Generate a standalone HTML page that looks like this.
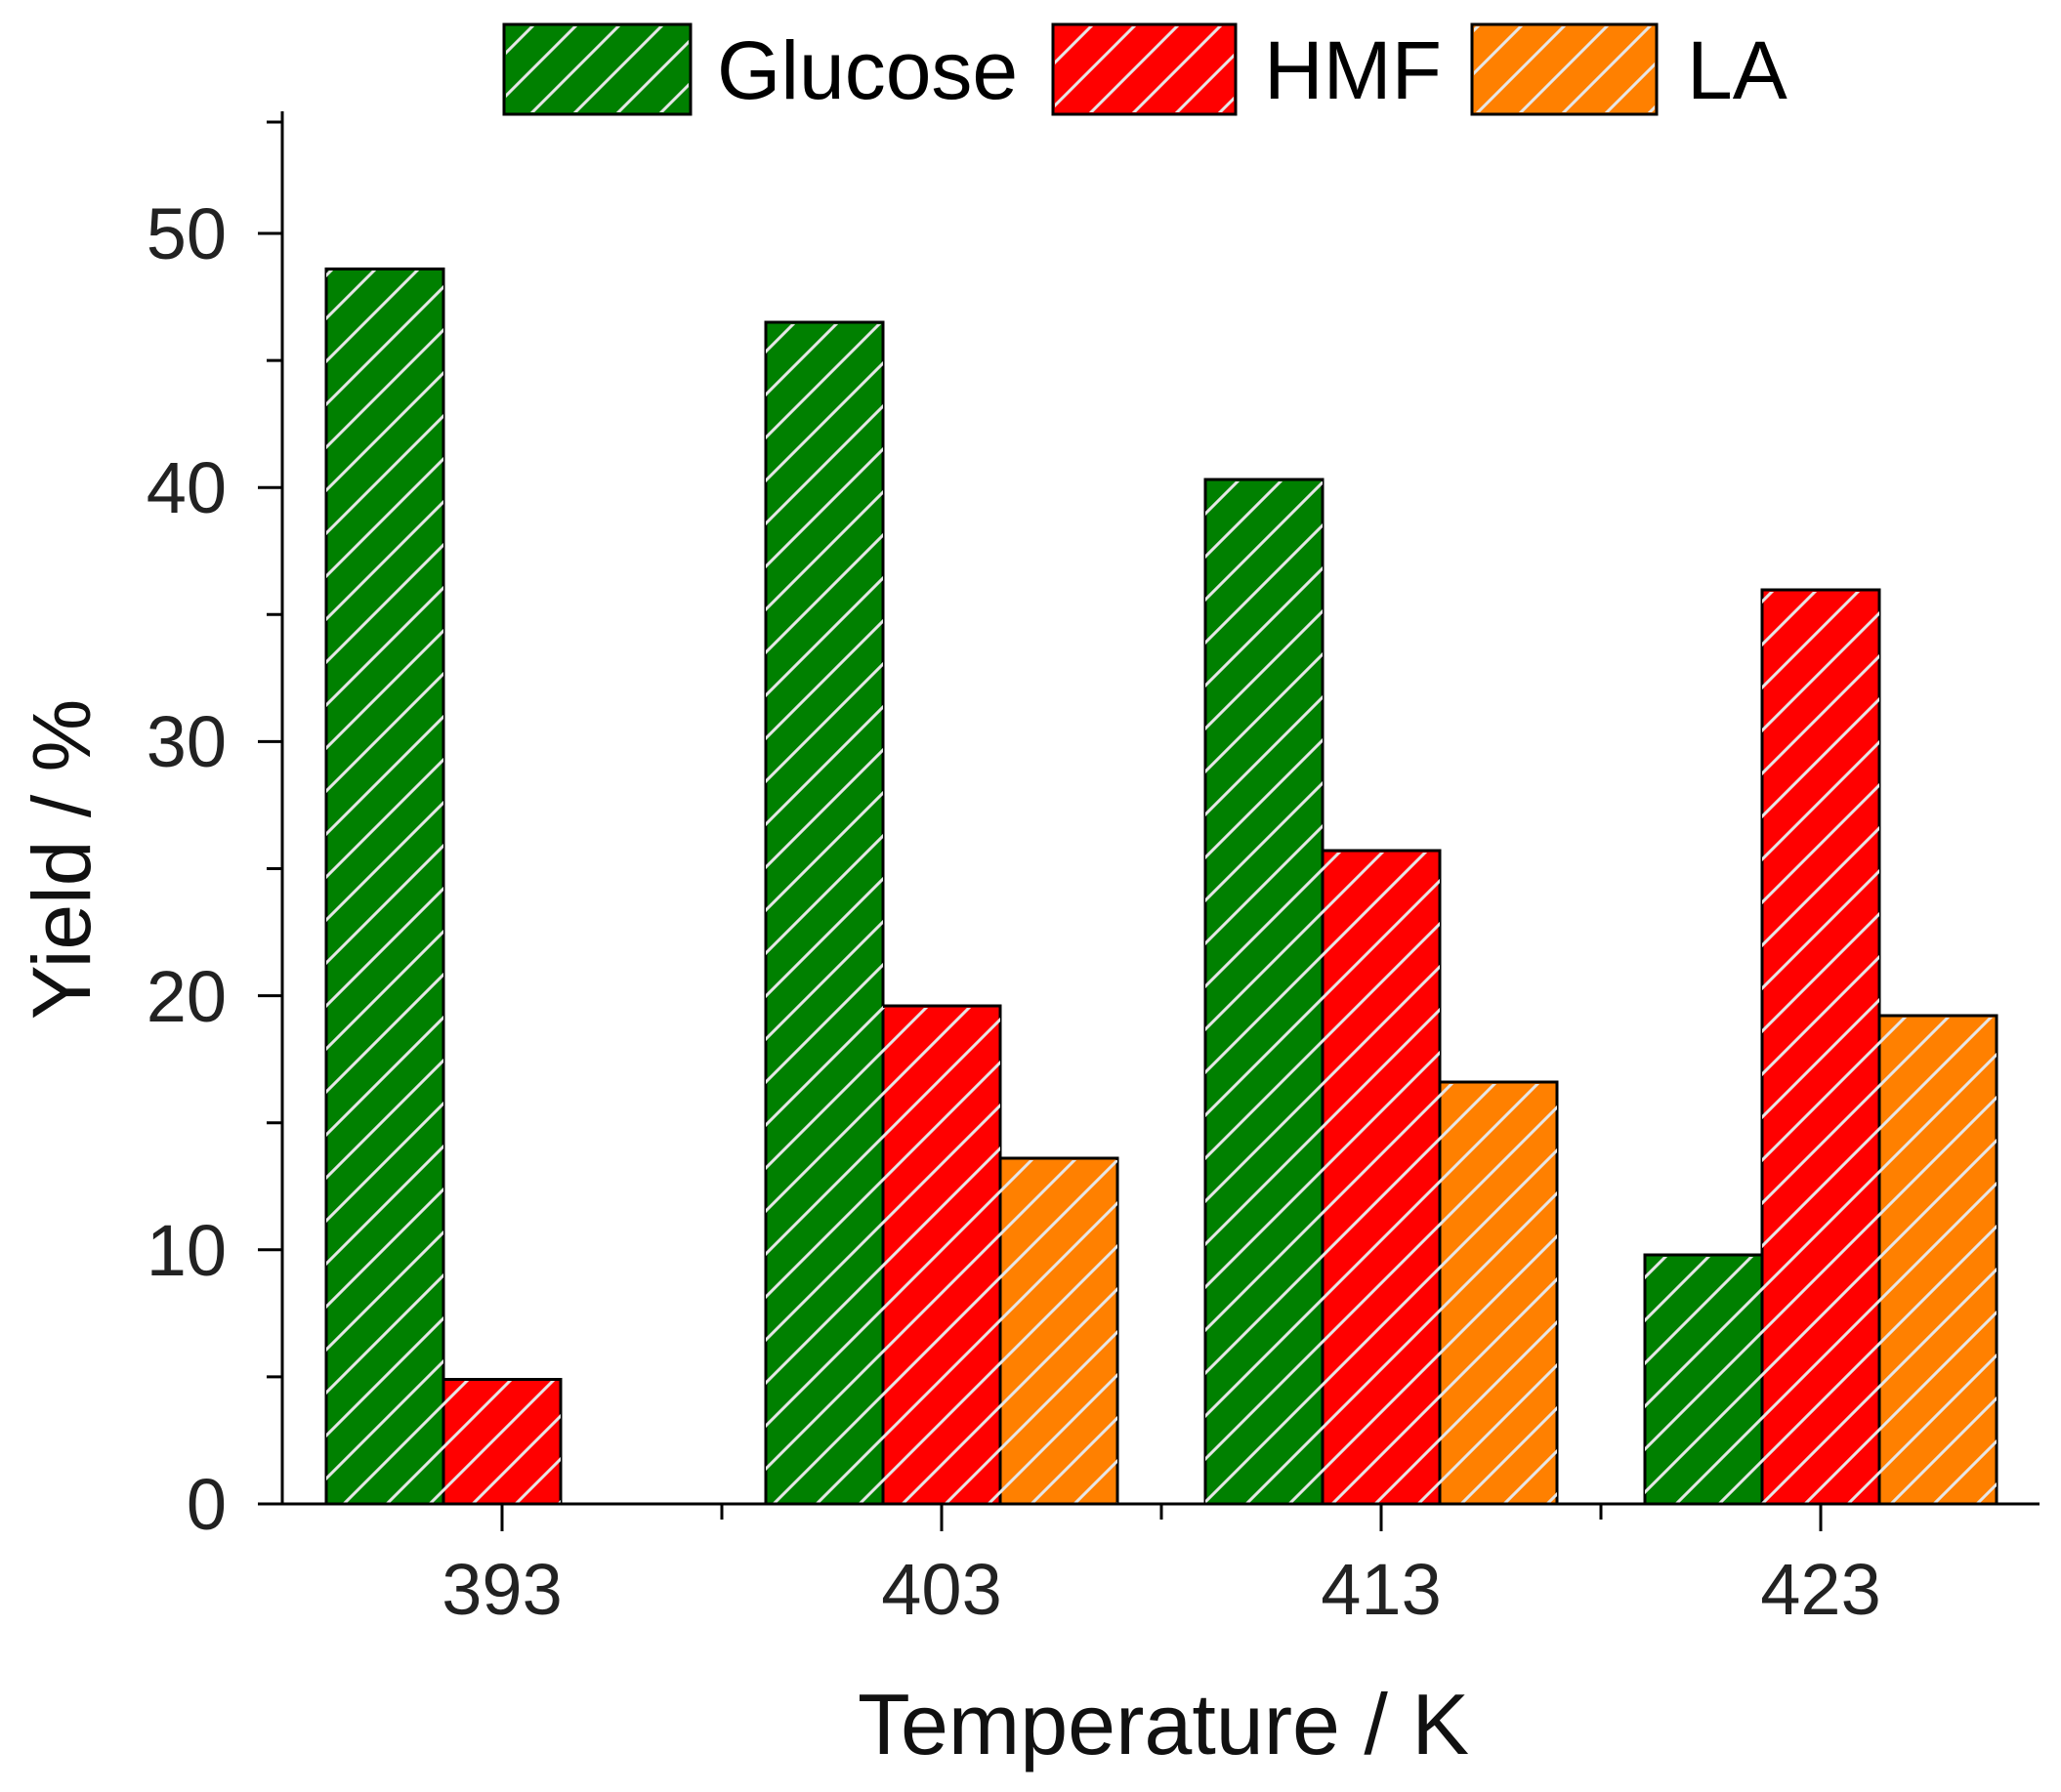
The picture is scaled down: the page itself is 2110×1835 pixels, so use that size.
<!DOCTYPE html>
<html><head><meta charset="utf-8"><style>html,body{margin:0;padding:0;background:#fff}</style></head>
<body>
<svg width="2110" height="1830" xmlns="http://www.w3.org/2000/svg" font-family="Liberation Sans, Arial, sans-serif">
<defs>
<pattern id="h" patternUnits="userSpaceOnUse" width="44" height="44">
<path d="M-11,11 L11,-11 M0,44 L44,0 M33,55 L55,33" stroke="#e6e6e6" stroke-width="3"/>
</pattern>
</defs>
<g stroke="#000" stroke-width="3">
<rect x="334" y="275.4" width="120" height="1264.6" fill="#008000"/>
<rect x="454" y="1412.5" width="120" height="127.5" fill="#ff0000"/>
<rect x="784" y="330" width="120" height="1210" fill="#008000"/>
<rect x="904" y="1030" width="120" height="510" fill="#ff0000"/>
<rect x="1024" y="1186" width="120" height="354" fill="#ff8000"/>
<rect x="1234" y="491" width="120" height="1049" fill="#008000"/>
<rect x="1354" y="871" width="120" height="669" fill="#ff0000"/>
<rect x="1474" y="1108" width="120" height="432" fill="#ff8000"/>
<rect x="1684" y="1285" width="120" height="255" fill="#008000"/>
<rect x="1804" y="604" width="120" height="936" fill="#ff0000"/>
<rect x="1924" y="1040" width="120" height="500" fill="#ff8000"/>
</g>
<g fill="url(#h)">
<rect x="334" y="277" width="120" height="1262"/>
<rect x="454" y="1414" width="120" height="125"/>
<rect x="784" y="332" width="120" height="1207"/>
<rect x="904" y="1032" width="120" height="507"/>
<rect x="1024" y="1188" width="120" height="351"/>
<rect x="1234" y="493" width="120" height="1046"/>
<rect x="1354" y="873" width="120" height="666"/>
<rect x="1474" y="1110" width="120" height="429"/>
<rect x="1684" y="1287" width="120" height="252"/>
<rect x="1804" y="606" width="120" height="933"/>
<rect x="1924" y="1042" width="120" height="497"/>
</g>
<g stroke="#000" stroke-width="3" fill="none">
<path d="M289,114 V1540 H2088"/>
<path d="M289,1540 h-25 M289,1279.8 h-25 M289,1019.6 h-25 M289,759.4 h-25 M289,499.2 h-25 M289,239 h-25"/>
<path d="M289,1409.9 h-16 M289,1149.7 h-16 M289,889.5 h-16 M289,629.3 h-16 M289,369.1 h-16 M289,125 h-16"/>
<path d="M514,1540 v28 M964,1540 v28 M1414,1540 v28 M1864,1540 v28"/>
<path d="M739,1540 v16 M1189,1540 v16 M1639,1540 v16"/>
</g>
<g font-size="74" fill="#222" text-anchor="end">
<text x="232" y="1566">0</text>
<text x="232" y="1306">10</text>
<text x="232" y="1046">20</text>
<text x="232" y="785">30</text>
<text x="232" y="525">40</text>
<text x="232" y="265">50</text>
</g>
<g font-size="74" fill="#222" text-anchor="middle">
<text x="514" y="1653">393</text>
<text x="964" y="1653">403</text>
<text x="1414" y="1653">413</text>
<text x="1864" y="1653">423</text>
</g>
<text x="1191" y="1796" font-size="88" text-anchor="middle" fill="#111">Temperature / K</text>
<text transform="translate(92,880) rotate(-90)" font-size="84" text-anchor="middle" fill="#111">Yield / %</text>
<g stroke="#000" stroke-width="3">
<rect x="516" y="25" width="191" height="92" fill="#008000"/>
<rect x="1078" y="25" width="187" height="92" fill="#ff0000"/>
<rect x="1507" y="25" width="189" height="92" fill="#ff8000"/>
</g>
<g fill="url(#h)">
<rect x="518" y="27" width="187" height="88"/>
<rect x="1080" y="27" width="183" height="88"/>
<rect x="1509" y="27" width="185" height="88"/>
</g>
<g font-size="84" fill="#000">
<text x="734" y="101">Glucose</text>
<text x="1294" y="101">HMF</text>
<text x="1727" y="101">LA</text>
</g>
</svg>
</body></html>
